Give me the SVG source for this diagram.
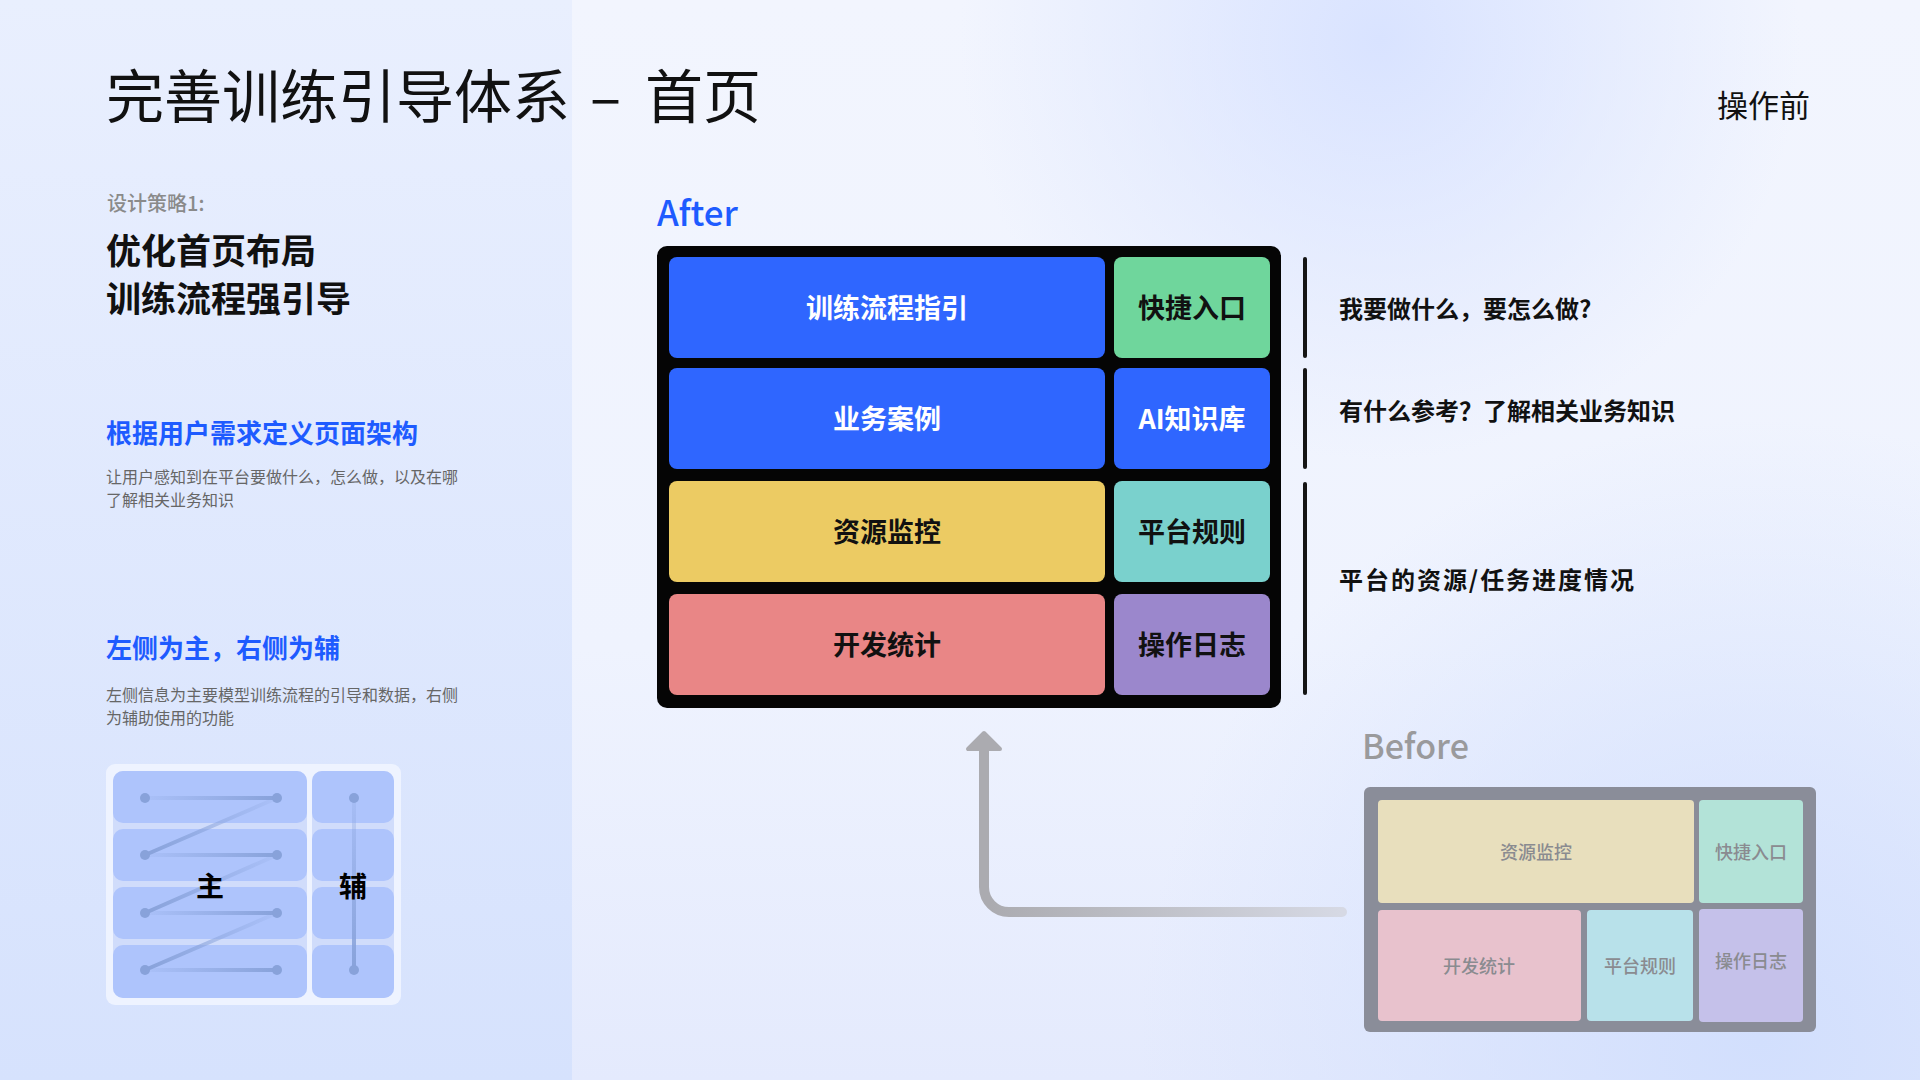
<svg xmlns="http://www.w3.org/2000/svg" width="1920" height="1080" viewBox="0 0 1920 1080">
<defs>
<style>
text{font-family:"Noto Sans CJK SC","Noto Sans",sans-serif;}
.title{font-size:58px;font-weight:400;fill:#111;}
.sub{font-size:35px;font-weight:600;fill:#111;}
.blueh{font-size:26px;font-weight:700;fill:#1E5BFF;}
.body{font-size:16px;font-weight:400;fill:#666;}
.cellt{font-size:27px;font-weight:600;text-anchor:middle;}
.note{font-size:24px;font-weight:600;fill:#111;}
.bt{font-size:18px;font-weight:500;fill:#8a8b90;text-anchor:middle;}
.mini{fill:#AEC4FC;}
.dot{fill:#88A2DA;}
.bar{fill:#151515;}
</style>
<linearGradient id="leftbg" x1="0" y1="0" x2="0" y2="1">
<stop offset="0" stop-color="#E9EFFE"/>
<stop offset="1" stop-color="#D6E2FD"/>
</linearGradient>
<linearGradient id="rightbg" x1="0" y1="0" x2="0" y2="1">
<stop offset="0" stop-color="#F2F5FE"/>
<stop offset="0.6" stop-color="#EFF3FE"/>
<stop offset="1" stop-color="#E4EAFD"/>
</linearGradient>
<radialGradient id="blobTR" cx="1380" cy="40" r="420" gradientUnits="userSpaceOnUse">
<stop offset="0" stop-color="#D9E3FF" stop-opacity="1"/>
<stop offset="1" stop-color="#D9E3FF" stop-opacity="0"/>
</radialGradient>
<radialGradient id="blobBR" cx="1760" cy="1040" r="620" gradientUnits="userSpaceOnUse">
<stop offset="0" stop-color="#D2DFFD" stop-opacity="1"/>
<stop offset="1" stop-color="#D2DFFD" stop-opacity="0"/>
</radialGradient>
<linearGradient id="hline" gradientUnits="userSpaceOnUse" x1="145" y1="0" x2="277" y2="0">
<stop offset="0" stop-color="#88A2DA" stop-opacity="0.1"/>
<stop offset="1" stop-color="#88A2DA" stop-opacity="1"/>
</linearGradient>
<linearGradient id="dline" gradientUnits="userSpaceOnUse" x1="145" y1="0" x2="277" y2="0">
<stop offset="0" stop-color="#88A2DA" stop-opacity="1"/>
<stop offset="1" stop-color="#88A2DA" stop-opacity="0.1"/>
</linearGradient>
<linearGradient id="vline" gradientUnits="userSpaceOnUse" x1="0" y1="798" x2="0" y2="970">
<stop offset="0" stop-color="#88A2DA" stop-opacity="0.2"/>
<stop offset="1" stop-color="#88A2DA" stop-opacity="1"/>
</linearGradient>
<linearGradient id="arrowg" gradientUnits="userSpaceOnUse" x1="990" y1="0" x2="1342" y2="0">
<stop offset="0" stop-color="#ABABB0"/>
<stop offset="1" stop-color="#D6D9E4"/>
</linearGradient>
</defs>

<!-- background -->
<rect x="0" y="0" width="1920" height="1080" fill="url(#rightbg)"/>
<rect x="572" y="0" width="1348" height="1080" fill="url(#blobTR)"/>
<rect x="572" y="0" width="1348" height="1080" fill="url(#blobBR)"/>
<rect x="0" y="0" width="572" height="1080" fill="url(#leftbg)"/>

<!-- left text -->
<g id="title">
<text class="title" x="106" y="118">完善训练引导体系<tspan x="590">–</tspan><tspan x="645">首页</tspan></text>
</g>
<g id="state-label">
<text x="1717" y="117" font-size="31" font-weight="400" fill="#111">操作前</text>
</g>
<g id="strategy">
<text x="107" y="211" font-size="20" font-weight="500" fill="#8a8a8a">设计策略1:</text>
<text class="sub" x="106" y="264">优化首页布局</text>
<text class="sub" x="106" y="312">训练流程强引导</text>
</g>
<g id="point1">
<text class="blueh" x="106" y="443">根据用户需求定义页面架构</text>
<text class="body" x="106" y="483">让用户感知到在平台要做什么，怎么做，以及在哪</text>
<text class="body" x="106" y="506">了解相关业务知识</text>
</g>
<g id="point2">
<text class="blueh" x="106" y="658">左侧为主，右侧为辅</text>
<text class="body" x="106" y="701">左侧信息为主要模型训练流程的引导和数据，右侧</text>
<text class="body" x="106" y="724">为辅助使用的功能</text>
</g>

<!-- mini layout diagram -->
<g id="mini-layout">
<rect x="106" y="764" width="295" height="241" rx="9" fill="#EEF3FF"/>
<rect x="113" y="771" width="194" height="227" rx="10" fill="#D0DCFB"/>
<rect x="312" y="771" width="82" height="227" rx="10" fill="#D0DCFB"/>
<rect class="mini" x="113" y="771" width="194" height="52" rx="10"/>
<rect class="mini" x="113" y="829" width="194" height="52" rx="10"/>
<rect class="mini" x="113" y="887" width="194" height="52" rx="10"/>
<rect class="mini" x="113" y="945" width="194" height="53" rx="10"/>
<rect class="mini" x="312" y="771" width="82" height="52" rx="10"/>
<rect class="mini" x="312" y="829" width="82" height="52" rx="10"/>
<rect class="mini" x="312" y="887" width="82" height="52" rx="10"/>
<rect class="mini" x="312" y="945" width="82" height="53" rx="10"/>
<g stroke-width="4" stroke-linecap="round" fill="none">
<line x1="145" y1="798" x2="277" y2="798" stroke="url(#hline)"/>
<line x1="145" y1="855" x2="277" y2="855" stroke="url(#hline)"/>
<line x1="145" y1="913" x2="277" y2="913" stroke="url(#hline)"/>
<line x1="145" y1="970" x2="277" y2="970" stroke="url(#hline)"/>
<line x1="277" y1="798" x2="145" y2="855" stroke="url(#dline)"/>
<line x1="277" y1="855" x2="145" y2="913" stroke="url(#dline)"/>
<line x1="277" y1="913" x2="145" y2="970" stroke="url(#dline)"/>
<line x1="354" y1="798" x2="354" y2="970" stroke="url(#vline)"/>
</g>
<circle class="dot" cx="145" cy="798" r="5"/>
<circle class="dot" cx="277" cy="798" r="5"/>
<circle class="dot" cx="145" cy="855" r="5"/>
<circle class="dot" cx="277" cy="855" r="5"/>
<circle class="dot" cx="145" cy="913" r="5"/>
<circle class="dot" cx="277" cy="913" r="5"/>
<circle class="dot" cx="145" cy="970" r="5"/>
<circle class="dot" cx="277" cy="970" r="5"/>
<circle class="dot" cx="354" cy="798" r="5"/>
<circle class="dot" cx="354" cy="970" r="5"/>
<text x="210" y="897" font-size="28" font-weight="700" fill="#000" text-anchor="middle">主</text>
<text x="353" y="897" font-size="28" font-weight="700" fill="#000" text-anchor="middle">辅</text>
</g>

<!-- After -->
<g id="after">
<text x="657" y="226" font-size="35" font-weight="500" fill="#1E5BFF">After</text>
<rect x="657" y="246" width="624" height="462" rx="10" fill="#050505"/>
<g id="after-guide"><rect x="669" y="257" width="436" height="101" rx="8" fill="#2F66FF"/><text class="cellt" x="887" y="318" fill="#fff">训练流程指引</text></g>
<g id="after-shortcut"><rect x="1114" y="257" width="156" height="101" rx="8" fill="#6FD69C"/><text class="cellt" x="1192" y="318" fill="#111">快捷入口</text></g>
<g id="after-cases"><rect x="669" y="368" width="436" height="101" rx="8" fill="#2F66FF"/><text class="cellt" x="887" y="429" fill="#fff">业务案例</text></g>
<g id="after-ai"><rect x="1114" y="368" width="156" height="101" rx="8" fill="#2F66FF"/><text class="cellt" x="1192" y="429" fill="#fff">AI知识库</text></g>
<g id="after-resource"><rect x="669" y="481" width="436" height="101" rx="8" fill="#ECCB63"/><text class="cellt" x="887" y="542" fill="#111">资源监控</text></g>
<g id="after-rules"><rect x="1114" y="481" width="156" height="101" rx="8" fill="#7AD1CD"/><text class="cellt" x="1192" y="542" fill="#111">平台规则</text></g>
<g id="after-stats"><rect x="669" y="594" width="436" height="101" rx="8" fill="#E98686"/><text class="cellt" x="887" y="655" fill="#111">开发统计</text></g>
<g id="after-log"><rect x="1114" y="594" width="156" height="101" rx="8" fill="#9B87CC"/><text class="cellt" x="1192" y="655" fill="#111">操作日志</text></g>
</g>

<!-- annotations -->
<g id="notes">
<rect class="bar" x="1303" y="257" width="4" height="101" rx="2"/>
<rect class="bar" x="1303" y="368" width="4" height="101" rx="2"/>
<rect class="bar" x="1303" y="482" width="4" height="213" rx="2"/>
<text class="note" x="1339" y="318">我要做什么，要怎么做?</text>
<text class="note" x="1339" y="420">有什么参考？了解相关业务知识</text>
<text class="note" x="1339" y="589" textLength="295" lengthAdjust="spacing">平台的资源/任务进度情况</text>
</g>

<!-- Before -->
<g id="before">
<text x="1362" y="759" font-size="34" font-weight="500" fill="#9A9A9C">Before</text>
<rect x="1364" y="787" width="452" height="245" rx="6" fill="#8A8D99"/>
<g id="before-resource"><rect x="1378" y="800" width="316" height="103" rx="4" fill="#E8DFBD"/><text class="bt" x="1536" y="859">资源监控</text></g>
<g id="before-shortcut"><rect x="1699" y="800" width="104" height="103" rx="4" fill="#B3E3D8"/><text class="bt" x="1751" y="859">快捷入口</text></g>
<g id="before-stats"><rect x="1378" y="910" width="203" height="111" rx="4" fill="#E8C2CD"/><text class="bt" x="1479" y="973">开发统计</text></g>
<g id="before-rules"><rect x="1587" y="910" width="106" height="111" rx="4" fill="#B8E1EA"/><text class="bt" x="1640" y="973">平台规则</text></g>
<g id="before-log"><rect x="1699" y="909" width="104" height="113" rx="4" fill="#C5C1EA"/><text class="bt" x="1751" y="968">操作日志</text></g>
</g>

<!-- connectors -->
<g id="connectors">
<path d="M1342,912 L1009,912 A25,25 0 0 1 984,887 L984,748" fill="none" stroke="url(#arrowg)" stroke-width="10" stroke-linecap="round"/>
<polygon points="984,733 968,749 1000,749" fill="#ABABB0" stroke="#ABABB0" stroke-width="4" stroke-linejoin="round"/>
</g>
</svg>
